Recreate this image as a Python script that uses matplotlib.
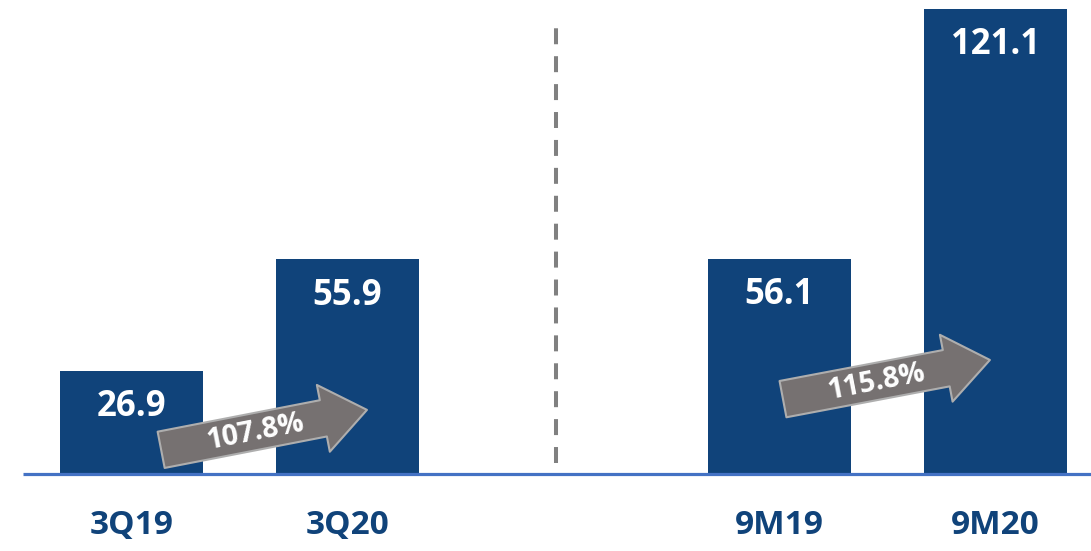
import matplotlib.pyplot as plt
from matplotlib.patches import FancyArrowPatch

plt.rcParams['font.family'] = ['Open Sans', 'DejaVu Sans']

# data
categories = ['3Q19', '3Q20', '9M19', '9M20']
positions = [0, 1, 3, 4]
values = [26.9, 55.9, 56.1, 121.1]
growth_labels = ['107.8%', '115.8%']
# arrow tail / tip (data coords) and label anchor
arrow_tails = [(0.137, 6.3), (3.016, 19.5)]
arrow_tips = [(1.09, 16.7), (3.974, 29.7)]
arrow_text_pos = [(0.572, 10.9), (3.45, 24.0)]

bar_color = '#10437a'
bg = '#f2f2f2'

fig = plt.figure(figsize=(10.91, 5.51), dpi=100, facecolor='white')
ax = fig.add_axes([8 / 1091, 0, 1 - 8 / 1091, 1])
ax.set_facecolor(bg)
ax.set_xlim(-0.572, 4.442)
ax.set_ylim(-20.05, 123.44)
ax.axis('off')

ax.bar(positions, values, width=0.662, color=bar_color, zorder=2)

for x, v in zip(positions, values):
    ax.text(x, v - 9.5, f'{v:.1f}', ha='center', va='center', color='white',
            fontsize=25, fontweight='bold', zorder=4)

for x, c in zip(positions, categories):
    ax.text(x, -13.3, c, ha='center', va='center', color=bar_color,
            fontsize=24, fontweight='bold')

# baseline
ax.plot([-0.502, 4.442], [0, 0], color='#4472c4', lw=2.3, zorder=3,
        solid_capstyle='butt')

# dashed separator
lw = 2.9
ax.plot([1.965, 1.965], [2.9, 116.4], color='#808080', lw=lw,
        linestyle=(0, (11.5 / lw, 8.6 / lw)), dash_capstyle='butt', zorder=1)

# growth arrows
for tail, tip, tpos, lab in zip(arrow_tails, arrow_tips, arrow_text_pos, growth_labels):
    arr = FancyArrowPatch(tail, tip,
                          arrowstyle='simple,head_width=4.9,head_length=3.2,tail_width=2.66',
                          mutation_scale=10, shrinkA=0, shrinkB=0,
                          facecolor='#767171', edgecolor='#aeaeae', lw=1.5, zorder=5)
    ax.add_patch(arr)
    ax.text(tpos[0], tpos[1], lab, ha='center', va='center', color='white',
            fontsize=20.5, fontweight='bold', rotation=11, zorder=6,
            rotation_mode='anchor')

fig.savefig('out.png', dpi=100, facecolor=fig.get_facecolor())
